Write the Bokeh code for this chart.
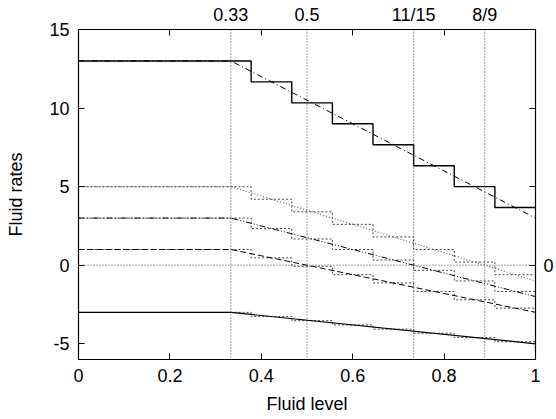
from bokeh.plotting import figure
from bokeh.models import Range1d, FixedTicker, LinearAxis, Span
from bokeh.embed import file_html
from bokeh.resources import INLINE

# ---- data ----
marks_x = [1/3, 0.5, 11/15, 8/9]
marks_labels = ["0.33", "0.5", "11/15", "8/9"]

line_x = [0, 1/3, 1]
line_top = [13, 13, 3]
line_a = [5, 5, -1]
line_b = [3, 3, -2]
line_c = [1, 1, -3]
line_d = [-3, -3, -5]

step_edges = [0, 17/45, 21/45, 25/45, 29/45, 33/45, 37/45, 41/45, 1]
step_top = [13, 11.67, 10.33, 9, 7.67, 6.33, 5, 3.67]
step_a = [5, 4.2, 3.4, 2.6, 1.8, 1.0, 0.2, -0.6]
step_b = [3, 2.33, 1.67, 1, 0.33, -0.33, -1, -1.67]
step_c = [1, 0.47, -0.07, -0.6, -1.13, -1.67, -2.2, -2.73]
step_d = [-3, -3.27, -3.53, -3.8, -4.07, -4.33, -4.6, -4.87]

x_ticks = [0, 0.2, 0.4, 0.6, 0.8, 1]
x_tick_labels = ["0", "0.2", "0.4", "0.6", "0.8", "1"]
y_ticks = [-5, 0, 5, 10, 15]
y_tick_labels = ["-5", "0", "5", "10", "15"]

FONT = "Liberation Sans"
FS = "18px"

p = figure(width=556, height=419, x_range=Range1d(0, 1), y_range=Range1d(-6, 15),
           output_backend="svg", toolbar_location=None,
           min_border_left=78, min_border_right=21, min_border_top=29, min_border_bottom=60)
p.xgrid.visible = False
p.ygrid.visible = False
p.outline_line_color = "black"
p.outline_line_width = 1.2
p.background_fill_color = "white"
p.border_fill_color = "white"

def style_axis(ax):
    ax.major_label_text_font = FONT
    ax.major_label_text_font_size = FS
    ax.major_label_text_color = "black"
    ax.axis_label_text_font = FONT
    ax.axis_label_text_font_size = FS
    ax.axis_label_text_font_style = "normal"
    ax.axis_label_text_color = "black"
    ax.major_tick_out = 0
    ax.minor_tick_out = 0
    ax.major_tick_in = 6
    ax.minor_tick_in = 6
    ax.axis_line_color = "black"
    ax.major_tick_line_color = "black"
    ax.minor_tick_line_color = "black"

xa = p.xaxis[0]
xa.ticker = FixedTicker(ticks=x_ticks, minor_ticks=[])
xa.major_label_overrides = {t: l for t, l in zip(x_ticks, x_tick_labels)}
xa.axis_label = "Fluid level"
style_axis(xa)
xa.major_label_standoff = 9
xa.axis_label_standoff = 9

ya = p.yaxis[0]
ya.ticker = FixedTicker(ticks=y_ticks, minor_ticks=[])
ya.major_label_overrides = {t: l for t, l in zip(y_ticks, y_tick_labels)}
ya.axis_label = "Fluid rates"
style_axis(ya)
ya.major_label_standoff = 9
ya.axis_label_standoff = 20

top = LinearAxis(ticker=FixedTicker(ticks=marks_x, minor_ticks=x_ticks[1:-1]))
top.major_label_overrides = {t: l for t, l in zip(marks_x, marks_labels)}
style_axis(top)
top.major_tick_in = 0
top.major_label_standoff = 5
p.add_layout(top, "above")

right = LinearAxis(ticker=FixedTicker(ticks=[0], minor_ticks=[-5, 5, 10, 15]))
right.major_label_overrides = {0: "0"}
style_axis(right)
right.major_label_standoff = 8
p.add_layout(right, "right")

# reference lines
for xv in marks_x:
    p.add_layout(Span(location=xv, dimension="height", line_color="#444444",
                      line_dash="1 2", line_width=1))
p.add_layout(Span(location=0, dimension="width", line_color="#444444",
                  line_dash="1 2", line_width=1))

# stairs
def stairs(levels, **kw):
    p.step(step_edges, levels + [levels[-1]], mode="after", **kw)

for lv in (step_a, step_b, step_c, step_d):
    stairs(lv, line_color="#444444", line_dash="2 2", line_width=1)
stairs(step_top, line_color="black", line_width=1.4)

# curves
p.line(line_x, line_top, line_color="black", line_dash="6 3 1 3", line_width=1)
p.line(line_x, line_a, line_color="#666666", line_dash="1 2", line_width=1.2)
p.line(line_x, line_b, line_color="black", line_dash="6 2 1 2 1 2", line_width=1)
p.line(line_x, line_c, line_color="black", line_dash="6 3", line_width=1)
p.line(line_x, line_d, line_color="black", line_width=1.2)

open("out.html", "w").write(file_html(p, INLINE))
